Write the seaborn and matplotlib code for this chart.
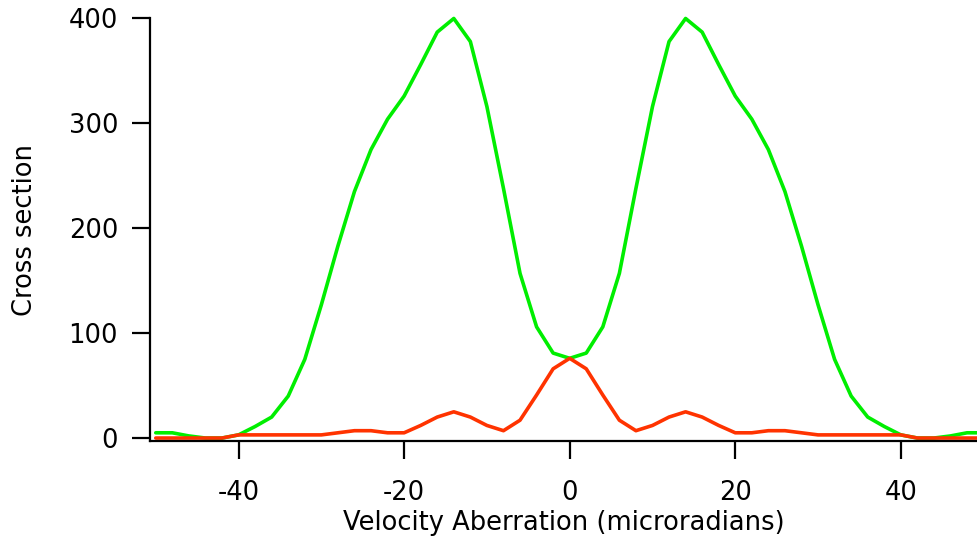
import numpy as np
import pandas as pd
import matplotlib
matplotlib.use('Agg')
import matplotlib.pyplot as plt
import seaborn as sns

# velocity aberration grid (step of 2 microradians)
aberration = list(range(-50, 52, 2))

green_cs = [5, 5, 2, 0, 0, 3, 11, 20, 40, 75, 127, 183, 235, 275, 304, 326, 356, 387, 400,
            378, 316, 238, 157, 106, 81, 76,
            81, 106, 157, 238, 316, 378, 400, 387, 356, 326, 304, 275, 235, 183, 127,
            75, 40, 20, 11, 3, 0, 0, 2, 5, 5]
red_cs = [0, 0, 0, 0, 0, 3, 3, 3, 3, 3, 3, 5, 7, 7, 5, 5, 12, 20, 25,
          20, 12, 7, 17, 41, 66, 76,
          66, 41, 17, 7, 12, 20, 25, 20, 12, 5, 5, 7, 7, 5, 3,
          3, 3, 3, 3, 3, 0, 0, 0, 0, 0]

x_ticks = [-40, -20, 0, 20, 40]
y_ticks = [0, 100, 200, 300, 400]

df = pd.DataFrame({'aberration': aberration * 2,
                   'cross_section': green_cs + red_cs,
                   'series': ['green'] * len(aberration) + ['red'] * len(aberration)})

sns.set_style('ticks')
plt.rcParams['font.family'] = ['DejaVu Sans']
plt.rcParams['axes.unicode_minus'] = False
plt.rcParams['text.color'] = 'black'
plt.rcParams['axes.labelcolor'] = 'black'
plt.rcParams['xtick.color'] = 'black'
plt.rcParams['ytick.color'] = 'black'
plt.rcParams['axes.edgecolor'] = 'black'

fig = plt.figure(figsize=(9.77, 5.44), dpi=100)
ax = fig.add_axes([0.1535, 0.189, 0.8465, 0.778])

sns.lineplot(data=df, x='aberration', y='cross_section', hue='series',
             palette={'green': '#00ee00', 'red': '#ff3300'},
             linewidth=2.6, legend=False, ax=ax, clip_on=False)

ax.set_xlim(-50.7, 49.2)
ax.set_ylim(-3, 400.5)
ax.set_xticks(x_ticks)
ax.set_yticks(y_ticks)
ax.set_xticklabels([str(t) for t in x_ticks])
ax.set_yticklabels([str(t) for t in y_ticks])

ax.set_xlabel('Velocity Aberration (microradians)', fontsize=18.5, labelpad=3)
ax.set_ylabel('Cross section', fontsize=18.5, labelpad=22)
ax.tick_params(axis='both', labelsize=18.5, length=13, width=1.6, direction='out')
ax.tick_params(axis='x', pad=15)
ax.tick_params(axis='y', pad=10)

for side in ['top', 'right']:
    ax.spines[side].set_visible(False)
for side in ['left', 'bottom']:
    ax.spines[side].set_linewidth(1.6)

fig.savefig('out.png', dpi=100)
